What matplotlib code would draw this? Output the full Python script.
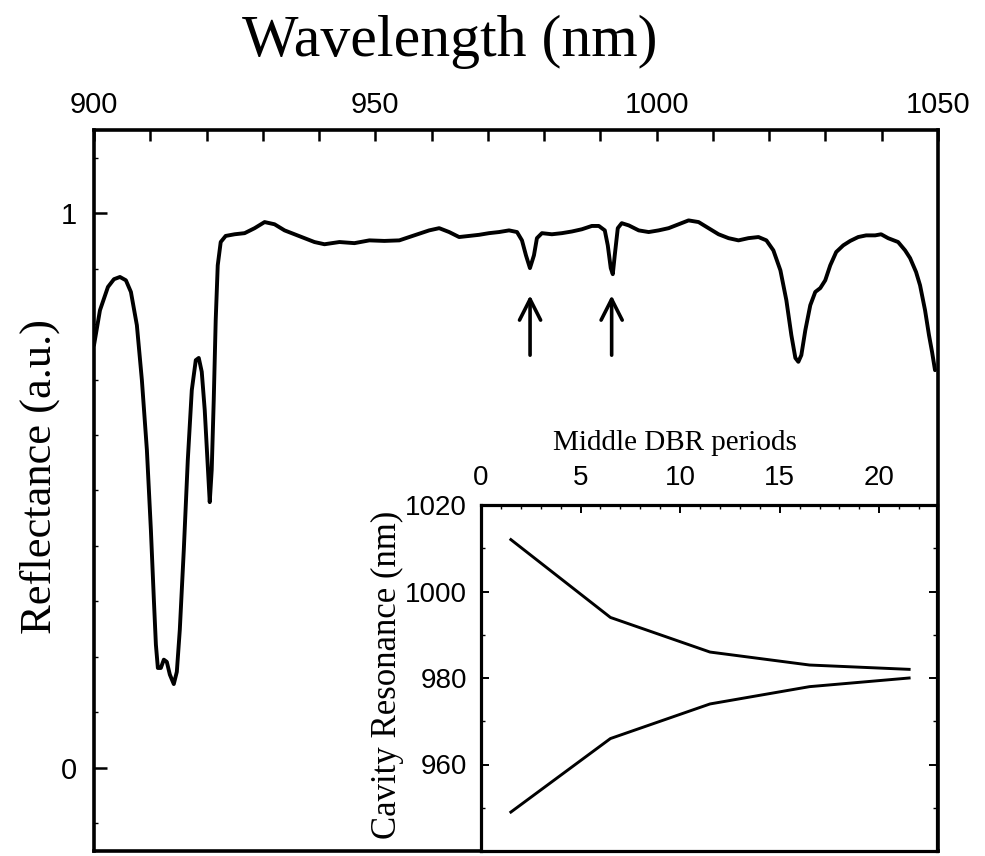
import numpy as np
import matplotlib
matplotlib.use('Agg')
import matplotlib.pyplot as plt
from matplotlib.ticker import MultipleLocator

# reflectance spectrum
wavelength = [900.0, 901.06, 902.48, 903.55, 904.61, 905.67, 906.56, 907.62, 908.51, 909.40,
              910.11, 910.64, 911.0, 911.35, 911.88, 912.41, 912.94, 913.48, 914.18, 914.72,
              915.25, 915.96, 916.67, 917.38, 918.09, 918.62, 919.15, 919.68, 920.21, 920.57,
              920.92, 921.28, 921.63, 921.99, 922.52, 923.40, 925.0, 926.77, 928.55, 930.32,
              932.09, 933.87, 935.64, 937.41, 939.18, 940.96, 943.62, 946.28, 948.94, 951.6,
              954.26, 956.91, 959.57, 961.35, 963.12, 964.89, 966.67, 968.44, 970.21, 971.99,
              973.76, 975.18, 976.06, 976.77, 977.48, 978.19, 978.72, 979.61, 981.38, 983.16,
              984.93, 986.70, 988.48, 989.72, 990.78, 991.31, 991.84, 992.20, 992.55, 993.09,
              993.79, 995.04, 996.81, 998.58, 1000.35, 1002.13, 1003.90, 1005.67, 1007.45, 1009.22,
              1011.0, 1012.77, 1014.54, 1016.31, 1018.09, 1019.50, 1020.74, 1021.99, 1023.05, 1023.94,
              1024.65, 1025.18, 1025.71, 1026.42, 1027.30, 1028.19, 1029.08, 1029.96, 1030.85, 1031.91,
              1033.16, 1034.40, 1035.82, 1037.23, 1038.83, 1039.89, 1041.13, 1042.91, 1044.15, 1045.04,
              1046.10, 1046.81, 1047.70, 1048.40, 1048.94, 1049.47]
reflectance = [0.762, 0.825, 0.867, 0.881, 0.885, 0.879, 0.858, 0.798, 0.699, 0.573,
               0.429, 0.303, 0.222, 0.180, 0.180, 0.195, 0.191, 0.168, 0.151, 0.173,
               0.249, 0.393, 0.555, 0.681, 0.735, 0.739, 0.714, 0.645, 0.546, 0.479,
               0.537, 0.663, 0.807, 0.906, 0.948, 0.959, 0.962, 0.964, 0.973, 0.984,
               0.980, 0.969, 0.962, 0.955, 0.948, 0.944, 0.948, 0.946, 0.951, 0.950,
               0.951, 0.960, 0.969, 0.973, 0.966, 0.957, 0.959, 0.961, 0.964, 0.966,
               0.969, 0.966, 0.951, 0.924, 0.901, 0.924, 0.955, 0.964, 0.962, 0.964,
               0.967, 0.971, 0.977, 0.977, 0.969, 0.942, 0.901, 0.890, 0.924, 0.973,
               0.982, 0.978, 0.969, 0.966, 0.969, 0.973, 0.980, 0.987, 0.984, 0.973,
               0.962, 0.955, 0.951, 0.955, 0.957, 0.951, 0.933, 0.897, 0.843, 0.780,
               0.739, 0.732, 0.744, 0.789, 0.834, 0.858, 0.865, 0.879, 0.906, 0.930,
               0.942, 0.950, 0.957, 0.960, 0.960, 0.962, 0.955, 0.948, 0.933, 0.919,
               0.894, 0.870, 0.825, 0.780, 0.750, 0.717]

# arrows marking the two cavity modes
arrow_x = [977.5, 992.0]

# inset: cavity resonance vs middle DBR periods
periods = [1.5, 6.5, 11.5, 16.5, 21.5]
upper_mode = [1012, 994, 986, 983, 982]
lower_mode = [949, 966, 974, 978, 980]

serif = 'Liberation Serif'
sans = 'Liberation Sans'
plt.rcParams['font.family'] = sans

fig = plt.figure(figsize=(9.85, 8.56), dpi=100)

# main axes
ax = fig.add_axes([94/985, 5/856, 844/985, 721/856])
ax.plot(wavelength, reflectance, color='black', linewidth=2.8,
        solid_joinstyle='round', solid_capstyle='round')
ax.set_xlim(900, 1050)
ax.set_ylim(-0.15, 1.15)
ax.xaxis.tick_top()
ax.set_xticks([900, 950, 1000, 1050])
ax.xaxis.set_minor_locator(MultipleLocator(10))
ax.set_yticks([0, 1])
ax.set_yticklabels(['0', '1'])
ax.yaxis.set_minor_locator(MultipleLocator(0.1))
ax.tick_params(axis='x', which='both', direction='in', length=8, width=1.8,
               labelsize=21, pad=8, bottom=False, top=True)
ax.tick_params(axis='y', which='major', direction='in', length=9, width=1.8,
               labelsize=21, pad=12)
ax.tick_params(axis='y', which='minor', direction='in', length=3, width=1.0)
for s in ax.spines.values():
    s.set_linewidth(2.6)

ax.text(0.422, 1.122, 'Wavelength (nm)', transform=ax.transAxes, ha='center', va='center',
        fontsize=43, family=serif)
ax.text(-0.064, 0.52, 'Reflectance (a.u.)', transform=ax.transAxes, ha='center', va='center',
        fontsize=32, family=serif, rotation=90)

for xa in arrow_x:
    ax.annotate('', xy=(xa, 0.852), xytext=(xa, 0.744),
                arrowprops=dict(arrowstyle='->, head_length=0.75, head_width=0.38',
                                mutation_scale=20, color='black', linewidth=2.6,
                                shrinkA=0, shrinkB=0))

# inset axes
ins = fig.add_axes([481/985, 5/856, 456/985, 346/856])
ins.set_facecolor('white')
ins.plot(periods, upper_mode, color='black', linewidth=2.1)
ins.plot(periods, lower_mode, color='black', linewidth=2.1)
ins.set_xlim(0, 22.9)
ins.set_ylim(940, 1020)
ins.xaxis.tick_top()
ins.set_xticks([0, 5, 10, 15, 20])
ins.xaxis.set_minor_locator(MultipleLocator(1))
ins.set_yticks([960, 980, 1000, 1020])
ins.yaxis.set_minor_locator(MultipleLocator(10))
ins.tick_params(axis='both', which='major', direction='in', length=6, width=1.4,
                labelsize=20, pad=10, right=True)
ins.tick_params(axis='both', which='minor', direction='in', length=3, width=1.0, right=True)
ins.tick_params(axis='x', which='both', bottom=False, top=True)
for s in ins.spines.values():
    s.set_linewidth(2.3)

ins.text(0.425, 1.18, 'Middle DBR periods', transform=ins.transAxes, ha='center', va='center',
         fontsize=21, family=serif)
ins.text(-0.204, 0.51, 'Cavity Resonance (nm)', transform=ins.transAxes, ha='center', va='center',
         fontsize=25, family=serif, rotation=90)

fig.savefig('out.png', dpi=100)
